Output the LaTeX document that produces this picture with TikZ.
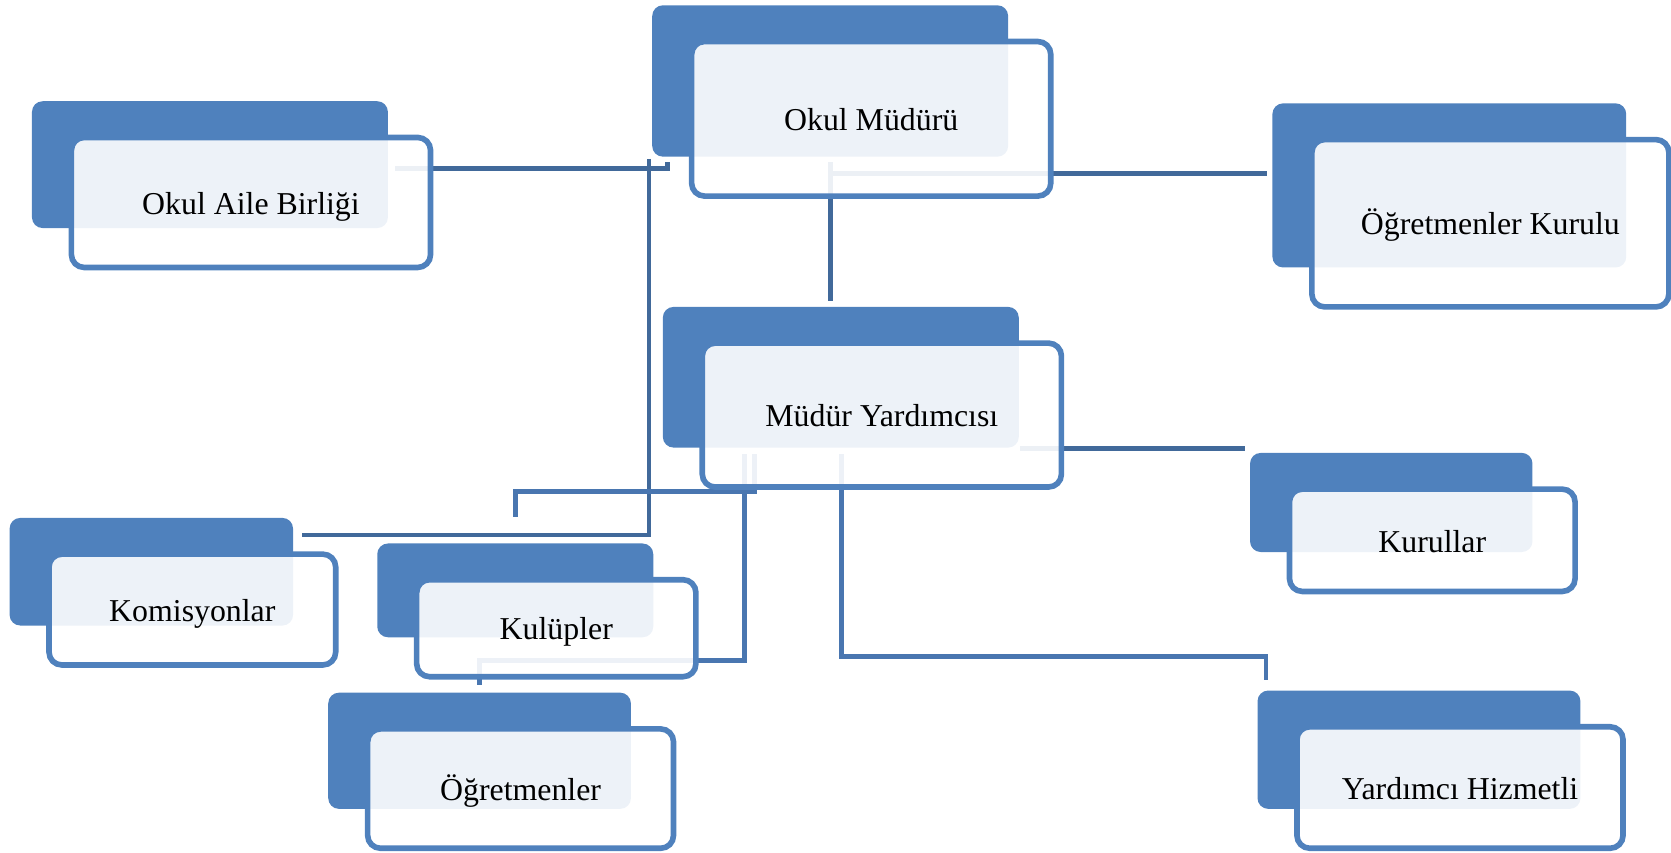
\documentclass[tikz,border=0pt]{standalone}
\usepackage{fontspec}
\setmainfont{Liberation Serif}
\usepackage{xcolor}
\usetikzlibrary{calc}
\definecolor{boxblue}{HTML}{4F81BD}
\definecolor{linedark}{HTML}{41699A}
\definecolor{linemid}{HTML}{4976B0}
\pgfdeclarelayer{lines}
\pgfdeclarelayer{backs}
\pgfsetlayers{lines,backs,main}

% blue card behind a box
\newcommand{\backcard}[1]{%
  \fill[boxblue, rounded corners=1mm] ($(#1.north west)+(-37,-34)$) rectangle ($(#1.south east)+(-40,-37)$);}

\begin{document}
\begin{tikzpicture}[x=0.1mm, y=-0.1mm,
  unitbox/.style={draw=boxblue, line width=1.5pt, rounded corners=1.2mm, fill=white, fill opacity=0.9, text opacity=1, outer sep=0pt, inner sep=0pt, text height=2.6mm, text depth=0.4mm, font=\fontsize{8.5}{10}\selectfont},
  orgline/.style={draw=linedark, line width=1.3pt},
  subline/.style={draw=linemid, line width=1.3pt}]
\useasboundingbox (0,0) rectangle (1568,800);

% Boxes
\node[unitbox, minimum width=33.7mm, minimum height=14.5mm] (mudur) at (817.5,111.5) {Okul Müdürü};
\node[unitbox, minimum width=33.7mm, minimum height=12.2mm] (aile) at (235.5,190) {Okul Aile Birliği};
\node[unitbox, minimum width=33.5mm, minimum height=15.7mm] (kurulu) at (1398.5,209.5) {Öğretmenler Kurulu};
\node[unitbox, minimum width=33.7mm, minimum height=13.5mm] (yard) at (827.5,389.5) {Müdür Yardımcısı};
\node[unitbox, minimum width=26.8mm, minimum height=9.6mm] (kurullar) at (1344,507) {Kurullar};
\node[unitbox, minimum width=26.9mm, minimum height=10.4mm] (komisyon) at (180.5,572) {Komisyonlar};
\node[unitbox, minimum width=26.2mm, minimum height=9.1mm] (kulup) at (522,589.5) {Kulüpler};
\node[unitbox, minimum width=28.7mm, minimum height=11.2mm] (ogretmen) at (488.5,740) {Öğretmenler};
\node[unitbox, minimum width=30.6mm, minimum height=11.4mm] (hizmetli) at (1370,739) {Yardımcı Hizmetli};

% Blue cards
\begin{pgfonlayer}{backs}
\foreach \n in {mudur, aile, kurulu, yard, kurullar, komisyon, kulup, ogretmen, hizmetli}
  \backcard{\n};
\end{pgfonlayer}

% Connector ends
\coordinate (aileOut) at (371,158);
\coordinate (aileTip) at (626,152);
\coordinate (trunkTop) at (609,149);
\coordinate (komisyonIn) at (283,502);
\coordinate (mudurOut) at (779,152);
\coordinate (kuruluIn) at (1189,163);
\coordinate (yardIn) at (779,282);
\coordinate (yardOut) at (957,421);
\coordinate (kurullarIn) at (1168,421);
\coordinate (stubEnd) at (484,485);
\coordinate (ogretmenIn) at (450,643);
\coordinate (hizmetliIn) at (1188,638);

% Connectors
\begin{pgfonlayer}{lines}
\draw[orgline] (aileOut) -| (aileTip);
\draw[orgline] (trunkTop) |- (komisyonIn);
\draw[orgline] (mudurOut) -- (yardIn);
\draw[orgline] (mudurOut |- kuruluIn) -- (kuruluIn);
\draw[orgline] (yardOut) -- (kurullarIn);
\draw[subline] (708,426) -- (708,461) -| (stubEnd);
\draw[subline] (699,426) -- (699,620) -| (ogretmenIn);
\draw[subline] (790,426) -- (790,616) -| (hizmetliIn);
\end{pgfonlayer}
\end{tikzpicture}
\end{document}
